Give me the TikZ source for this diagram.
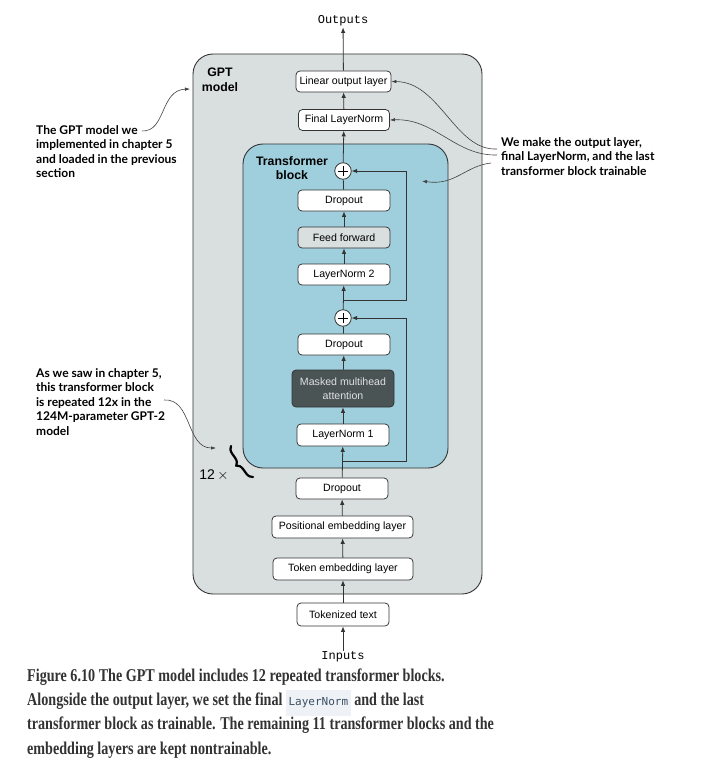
\documentclass[tikz,border=0pt]{standalone}
\usepackage{fontspec}
\setmainfont{Liberation Sans}
\newfontfamily\annfont{Lato}
\newfontfamily\cmono{Liberation Mono}
\newfontfamily\capfont{Liberation Serif}[FakeStretch=0.785]
\newfontfamily\codefont{DejaVu Sans Mono}
\usetikzlibrary{arrows.meta,decorations.pathreplacing}
\definecolor{gptfill}{HTML}{D9DEDF}
\definecolor{tbfill}{HTML}{9FCFDD}
\definecolor{fffill}{HTML}{D9DEDF}
\definecolor{mhafill}{HTML}{4A5455}
\definecolor{linec}{HTML}{333333}
\definecolor{capcol}{HTML}{333333}
\definecolor{codebg}{HTML}{EEF1F5}
\definecolor{codecol}{HTML}{3C4F63}
\tikzset{
  box/.style={draw=linec, line width=0.75pt, fill=white, rounded corners=4pt,
    minimum height=21pt, inner sep=0pt, font=\fontsize{10.6}{12}\selectfont},
  bigbox/.style={draw=linec, line width=0.9pt, rounded corners=20pt, inner sep=0pt},
  plusnode/.style={circle, draw=linec, line width=0.8pt, fill=white, minimum size=16.5pt, inner sep=0pt,
    path picture={
      \draw[line width=0.9pt,black] ([xshift=-5pt]path picture bounding box.center) -- ([xshift=5pt]path picture bounding box.center);
      \draw[line width=0.9pt,black] ([yshift=-5pt]path picture bounding box.center) -- ([yshift=5pt]path picture bounding box.center);}},
  flow/.style={draw=linec, line width=0.8pt, -{Latex[length=5.5pt,width=4.5pt]}},
  plain/.style={draw=linec, line width=0.8pt},
  ann/.style={draw=black!75, line width=0.6pt, -{Latex[length=5pt,width=3.5pt]}},
  anntext/.style={font=\annfont\bfseries\fontsize{12}{14.6}\selectfont, align=left, inner sep=0pt, anchor=north west},
  title/.style={font=\bfseries\fontsize{12.3}{14.5}\selectfont, align=center, inner sep=0pt},
  capline/.style={font=\capfont\bfseries\fontsize{18}{20}\selectfont, text=capcol, inner sep=0pt, anchor=base west},
  bracestyle/.style={draw=black, line width=2.2pt, line cap=round, decorate, decoration={brace, amplitude=7pt, aspect=0.5}},
}
\begin{document}
\begin{tikzpicture}[x=1pt,y=-1pt]
\path[use as bounding box] (0,0) rectangle (703,776);

% containers
\node[bigbox, fill=gptfill, minimum width=289pt, minimum height=540pt] (gpt) at (337.5,324) {};
\node[title] (gpttitle) at (220,80) {GPT\\model};
\node[bigbox, fill=tbfill, minimum width=205pt, minimum height=324pt] (tb) at (345.5,306) {};
\node[title] (tbtitle) at (292,168) {Transformer\\block};

% labels
\node[font=\cmono\fontsize{12}{12}\selectfont, inner sep=1pt] (out) at (343,21) {Outputs};
\node[font=\cmono\fontsize{12}{12}\selectfont, inner sep=1pt] (in) at (343,657) {Inputs};

% boxes
\node[box, minimum width=95pt] (lin) at (343.5,81.5) {Linear output layer};
\node[box, minimum width=91pt] (fln) at (344,120) {Final LayerNorm};
\node[plusnode] (plus1) at (343,171) {};
\node[box, minimum width=92pt] (drop2) at (344,200.5) {Dropout};
\node[box, minimum width=92pt, fill=fffill] (ff) at (344,237.5) {Feed forward};
\node[box, minimum width=92pt] (ln2) at (344,274.5) {LayerNorm 2};
\node[plusnode] (plus2) at (343,318) {};
\node[box, minimum width=92pt] (drop1) at (344,344.5) {Dropout};
\node[box, minimum width=102pt, minimum height=37pt, fill=mhafill, text=white!88!black, align=center,
  font=\fontsize{10.6}{13.5}\selectfont] (mha) at (343,388.5) {Masked multihead\\attention};
\node[box, minimum width=92pt, minimum height=22pt] (ln1) at (343,435) {LayerNorm 1};
\node[box, minimum width=92pt] (dropo) at (342,488.5) {Dropout};
\node[box, minimum width=141pt, minimum height=22pt] (pos) at (342.5,527) {Positional embedding layer};
\node[box, minimum width=140pt, minimum height=22pt] (tok) at (343,569) {Token embedding layer};
\node[box, minimum width=92pt, minimum height=23pt] (tt) at (343,614.5) {Tokenized text};

% main flow
\draw[flow] (in) -- (tt);
\draw[flow] (tt) -- (tok);
\draw[flow] (tok) -- (pos);
\draw[flow] (pos) -- (dropo);
\draw[flow] (dropo) -- (ln1);
\draw[flow] (ln1) -- (mha);
\draw[flow] (mha) -- (drop1);
\draw[plain] (drop1) -- (plus2);
\draw[flow] (plus2) -- (ln2);
\draw[flow] (ln2) -- (ff);
\draw[flow] (ff) -- (drop2);
\draw[plain] (drop2) -- (plus1);
\draw[flow] (plus1) -- (fln);
\draw[flow] (fln) -- (lin);
\draw[flow] (lin) -- (out);

% residuals
\coordinate (r1s) at (343,461);
\coordinate (r1c) at (406,461);
\draw[flow] (r1s) -- (r1c) |- (plus2);
\coordinate (r2s) at (343,300);
\coordinate (r2c) at (406,300);
\draw[flow] (r2s) -- (r2c) |- (plus1);

% 12x brace
\node[font=\fontsize{14}{14}\selectfont, inner sep=0pt] (twelve) at (214,475) {12\,$\times$};
\coordinate (brb) at (253,477);
\coordinate (brt) at (231,446);
\draw[bracestyle] (brb) -- (brt);

% annotations
\node[anntext] (a1) at (36,125) {The GPT model we\\implemented in chapter 5\\and loaded in the previous\\section};
\coordinate (a1s) at (142,131);
\coordinate (a1e) at (190,89);
\draw[ann] (a1s) .. controls (166,132) and (160,90) .. (a1e);

\node[anntext] (a2) at (501,137) {We make the output layer,\\final LayerNorm, and the last\\transformer block trainable};
\coordinate (a2s1) at (497,149);
\coordinate (a2s2) at (497,155);
\coordinate (a2s3) at (491,163);
\coordinate (tbp) at (422,181);
\draw[ann] (a2s1) .. controls (455,151) and (440,82) .. (lin.east);
\draw[ann] (a2s2) .. controls (455,156) and (435,118) .. (fln.east);
\draw[ann] (a2s3) .. controls (465,166) and (455,186) .. (tbp);

\node[anntext] (a3) at (36,368) {As we saw in chapter 5,\\this transformer block\\is repeated 12x in the\\124M-parameter GPT-2\\model};
\coordinate (a3s) at (164,400);
\coordinate (a3e) at (216,448);
\draw[ann] (a3s) .. controls (192,398) and (186,448) .. (a3e);

% caption
\node[capline] (c1) at (27,681) {Figure 6.10 The GPT model includes 12 repeated transformer blocks.};
\node[capline] (c2) at (27,705.5) {Alongside the output layer, we set the final {\setlength{\fboxsep}{2.5pt}\colorbox{codebg}{\rule[-8pt]{0pt}{21pt}\codefont\mdseries\fontsize{11}{11}\selectfont\color{codecol}LayerNorm}} and the last};
\node[capline] (c3) at (27,729.5) {transformer block as trainable. The remaining 11 transformer blocks and the};
\node[capline] (c4) at (27,754) {embedding layers are kept nontrainable.};
\end{tikzpicture}
\end{document}
